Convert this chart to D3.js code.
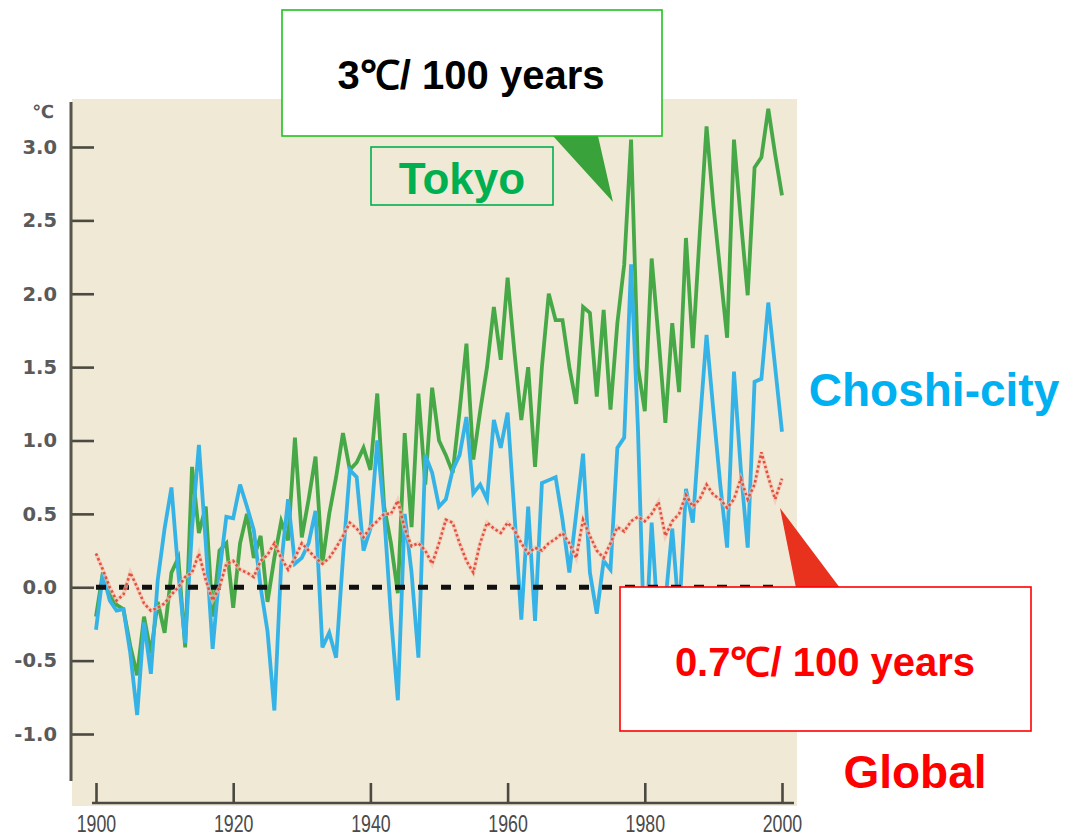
<!DOCTYPE html>
<html>
<head>
<meta charset="utf-8">
<script src="https://cdn.jsdelivr.net/npm/d3@7"></script>
<style>
  html, body { margin: 0; padding: 0; background: #ffffff; }
  svg { display: block; }
</style>
</head>
<body>
<svg id="chart" width="1066" height="840"></svg>
<script>
// ---------------- DATA ----------------
const years = d3.range(1900, 2001); // 1900 ... 2000 (annual)

// Tokyo annual mean temperature anomaly (°C)
const tokyo = [
  -0.2, 0.1, -0.05, -0.12, -0.15, -0.4, -0.6, -0.2, -0.45, -0.1,      // 1900-1909
  -0.31, 0.1, 0.2, -0.41, 0.82, 0.37, 0.55, -0.2, 0.25, 0.3,          // 1910-1919
  -0.14, 0.3, 0.5, 0.2, 0.35, -0.1, 0.2, 0.45, 0.32, 1.02,            // 1920-1929
  0.34, 0.6, 0.89, 0.16, 0.5, 0.75, 1.05, 0.8, 0.85, 0.95,            // 1930-1939
  0.8, 1.32, 0.55, 0.3, -0.04, 1.05, 0.41, 1.32, 0.7, 1.36,           // 1940-1949
  1.0, 0.9, 0.78, 1.2, 1.66, 0.87, 1.2, 1.5, 1.91, 1.55,              // 1950-1959
  2.11, 1.6, 1.14, 1.5, 0.82, 1.5, 2.0, 1.82, 1.82, 1.5,              // 1960-1969
  1.25, 1.91, 1.87, 1.3, 1.89, 1.21, 1.8, 2.2, 3.05, 1.5,             // 1970-1979
  1.2, 2.24, 1.7, 1.12, 1.8, 1.33, 2.38, 1.63, 2.4, 3.14,             // 1980-1989
  2.6, 2.15, 1.7, 3.05, 2.5, 1.99, 2.86, 2.93, 3.26, 2.95,            // 1990-1999
  2.67                                                                // 2000
];

// Choshi-city annual mean temperature anomaly (°C)
const choshi = [
  -0.29, 0.09, -0.09, -0.16, -0.15, -0.45, -0.87, -0.24, -0.59, 0.05, // 1900-1909
  0.4, 0.68, 0.1, -0.38, 0.4, 0.97, 0.3, -0.42, 0.1, 0.48,            // 1910-1919
  0.47, 0.7, 0.55, 0.39, 0.0, -0.3, -0.84, 0.16, 0.6, 0.16,           // 1920-1929
  0.2, 0.3, 0.52, -0.41, -0.31, -0.48, 0.2, 0.8, 0.75, 0.25,          // 1930-1939
  0.4, 1.0, 0.5, -0.2, -0.77, 0.5, 0.1, -0.48, 0.9, 0.78,             // 1940-1949
  0.55, 0.6, 0.8, 0.9, 1.16, 0.64, 0.7, 0.6, 1.14, 0.95,              // 1950-1959
  1.19, 0.5, -0.22, 0.55, -0.23, 0.71, 0.73, 0.75, 0.46, 0.1,         // 1960-1969
  0.5, 0.91, 0.1, -0.18, 0.18, 0.12, 0.95, 1.02, 2.2, 1.08,           // 1970-1979
  -0.5, 0.44, -0.3, -0.1, 0.4, -0.2, 0.67, 0.44, 1.1, 1.72,           // 1980-1989
  1.2, 0.7, 0.27, 1.47, 0.8, 0.27, 1.4, 1.42, 1.94, 1.5,              // 1990-1999
  1.06                                                                // 2000
];

// Global mean temperature anomaly (°C)
const globalT = [
  0.23, 0.12, 0.0, -0.09, -0.05, 0.1, 0.0, -0.11, -0.16, -0.14,       // 1900-1909
  -0.11, -0.05, 0.0, 0.07, 0.1, 0.23, 0.05, -0.09, 0.0, 0.16,         // 1910-1919
  0.18, 0.12, 0.1, 0.07, 0.18, 0.22, 0.3, 0.2, 0.12, 0.2,             // 1920-1929
  0.3, 0.25, 0.2, 0.16, 0.2, 0.27, 0.35, 0.44, 0.4, 0.34,             // 1930-1939
  0.41, 0.45, 0.5, 0.5, 0.59, 0.4, 0.28, 0.3, 0.25, 0.16,             // 1940-1949
  0.3, 0.46, 0.44, 0.3, 0.18, 0.1, 0.3, 0.44, 0.4, 0.37,              // 1950-1959
  0.44, 0.39, 0.3, 0.23, 0.27, 0.25, 0.3, 0.33, 0.37, 0.3,            // 1960-1969
  0.2, 0.46, 0.35, 0.25, 0.2, 0.3, 0.41, 0.38, 0.45, 0.48,            // 1970-1979
  0.45, 0.5, 0.58, 0.35, 0.45, 0.5, 0.63, 0.55, 0.6, 0.7,             // 1980-1989
  0.63, 0.6, 0.54, 0.6, 0.74, 0.6, 0.7, 0.92, 0.75, 0.6,              // 1990-1999
  0.74                                                                // 2000
];

const yTicks = [-1.0, -0.5, 0.0, 0.5, 1.0, 1.5, 2.0, 2.5, 3.0];
const xTicks = [1900, 1920, 1940, 1960, 1980, 2000];
const baseline = [0, 0];           // reference 0.0 level
const baselineYears = [1900, 2000];

const unitLabel = "℃";
const labelTokyo = "Tokyo";
const labelChoshi = "Choshi-city";
const labelGlobal = "Global";
const noteTokyo = "3℃/ 100 years";
const noteGlobal = "0.7℃/ 100 years";

// ---------------- DRAW ----------------
const svg = d3.select("#chart");

const x = d3.scaleLinear().domain([1900, 2000]).range([96, 782]);
const y = d3.scaleLinear().domain([-1, 3]).range([734, 147]);

// plot background
svg.append("rect")
  .attr("x", 72).attr("y", 99)
  .attr("width", 725).attr("height", 707)
  .attr("fill", "#efe9d5");

// y axis
const yAxis = d3.axisLeft(y)
  .tickValues(yTicks)
  .tickFormat(d => d.toFixed(1))
  .tickSizeInner(-23)
  .tickSizeOuter(0)
  .tickPadding(14);

const gy = svg.append("g").attr("transform", "translate(71,0)").call(yAxis);
gy.select(".domain").remove();
gy.selectAll(".tick line").attr("stroke", "#4a4a42").attr("stroke-width", 2.6);
gy.selectAll(".tick text")
  .attr("fill", "#5a5a5a")
  .style("font-family", "'DejaVu Sans', sans-serif")
  .style("font-weight", "bold")
  .style("font-size", "19.5px");
gy.append("line")
  .attr("x1", 0).attr("x2", 0)
  .attr("y1", 102).attr("y2", 781)
  .attr("stroke", "#55554c").attr("stroke-width", 3);

svg.append("text")
  .attr("x", 54).attr("y", 118)
  .attr("text-anchor", "end")
  .attr("fill", "#5a5a5a")
  .style("font-family", "'DejaVu Sans', sans-serif")
  .style("font-weight", "bold")
  .style("font-size", "18px")
  .text(unitLabel);

// x axis
const xAxis = d3.axisBottom(x)
  .tickValues(xTicks)
  .tickFormat(d3.format("d"))
  .tickSizeInner(-20)
  .tickSizeOuter(0)
  .tickPadding(12);

const gx = svg.append("g").attr("transform", "translate(0,803)").call(xAxis);
gx.select(".domain").remove();
gx.append("line")
  .attr("x1", 92).attr("x2", 794)
  .attr("y1", 0).attr("y2", 0)
  .attr("stroke", "#4a4a42").attr("stroke-width", 2.6);
gx.selectAll(".tick line").attr("stroke", "#4a4a42").attr("stroke-width", 2.6);
gx.selectAll(".tick text")
  .attr("fill", "#4a4a4a")
  .attr("transform", "scale(0.74,1)")
  .style("font-family", "'Liberation Sans', Arial, sans-serif")
  .style("font-size", "24px");

// lines
const lineGen = arr => d3.line()
  .x((d, i) => x(years[i]))
  .y(d => y(d))(arr);

svg.append("path")
  .attr("d", lineGen(tokyo))
  .attr("fill", "none")
  .attr("stroke", "#47a847")
  .attr("stroke-width", 3.8);

svg.append("path")
  .attr("d", lineGen(choshi))
  .attr("fill", "none")
  .attr("stroke", "#35b3e6")
  .attr("stroke-width", 3.8);

// 0.0 dashed reference line
svg.append("path")
  .attr("d", d3.line().x((d, i) => x(baselineYears[i])).y(d => y(d))(baseline))
  .attr("fill", "none")
  .attr("stroke", "#111")
  .attr("stroke-width", 5)
  .attr("stroke-dasharray", "10,13");

// global: soft halo + dotted red
svg.append("path")
  .attr("d", lineGen(globalT))
  .attr("fill", "none")
  .attr("stroke", "#f3c2b2")
  .attr("stroke-width", 4)
  .attr("opacity", 0.7);
svg.append("path")
  .attr("d", lineGen(globalT))
  .attr("fill", "none")
  .attr("stroke", "#e3503c")
  .attr("stroke-width", 2.6)
  .attr("stroke-dasharray", "2.5,2.5");

// ---------------- ANNOTATIONS ----------------
const bold = "'Liberation Sans', Arial, sans-serif";

// Tokyo callout
svg.append("polygon")
  .attr("points", "553,136 598,136 613,202")
  .attr("fill", "#3aa23a");
svg.append("rect")
  .attr("x", 282).attr("y", 10).attr("width", 380).attr("height", 126)
  .attr("fill", "#ffffff").attr("stroke", "#1fc21f").attr("stroke-width", 1.6);
svg.append("text")
  .attr("x", 471).attr("y", 89)
  .attr("text-anchor", "middle")
  .attr("fill", "#000")
  .style("font-family", bold).style("font-weight", "bold").style("font-size", "40px")
  .text(noteTokyo);

svg.append("rect")
  .attr("x", 371).attr("y", 147).attr("width", 182).attr("height", 58)
  .attr("fill", "none").attr("stroke", "#00b050").attr("stroke-width", 1.6);
svg.append("text")
  .attr("x", 462).attr("y", 194)
  .attr("text-anchor", "middle")
  .attr("fill", "#00b050")
  .style("font-family", bold).style("font-weight", "bold").style("font-size", "44px")
  .text(labelTokyo);

// Choshi label
svg.append("text")
  .attr("x", 934).attr("y", 406)
  .attr("text-anchor", "middle")
  .attr("fill", "#00b0f0")
  .style("font-family", bold).style("font-weight", "bold").style("font-size", "46px")
  .text(labelChoshi);

// Global callout
svg.append("polygon")
  .attr("points", "780,508 796,588 840,588")
  .attr("fill", "#e8321e");
svg.append("rect")
  .attr("x", 620).attr("y", 587).attr("width", 411).attr("height", 144)
  .attr("fill", "#ffffff").attr("stroke", "#ff0000").attr("stroke-width", 1.6);
svg.append("text")
  .attr("x", 825).attr("y", 676)
  .attr("text-anchor", "middle")
  .attr("fill", "#ff0000")
  .style("font-family", bold).style("font-weight", "bold").style("font-size", "40px")
  .text(noteGlobal);

svg.append("text")
  .attr("x", 915).attr("y", 788)
  .attr("text-anchor", "middle")
  .attr("fill", "#ff0000")
  .style("font-family", bold).style("font-weight", "bold").style("font-size", "46px")
  .text(labelGlobal);
</script>
</body>
</html>
